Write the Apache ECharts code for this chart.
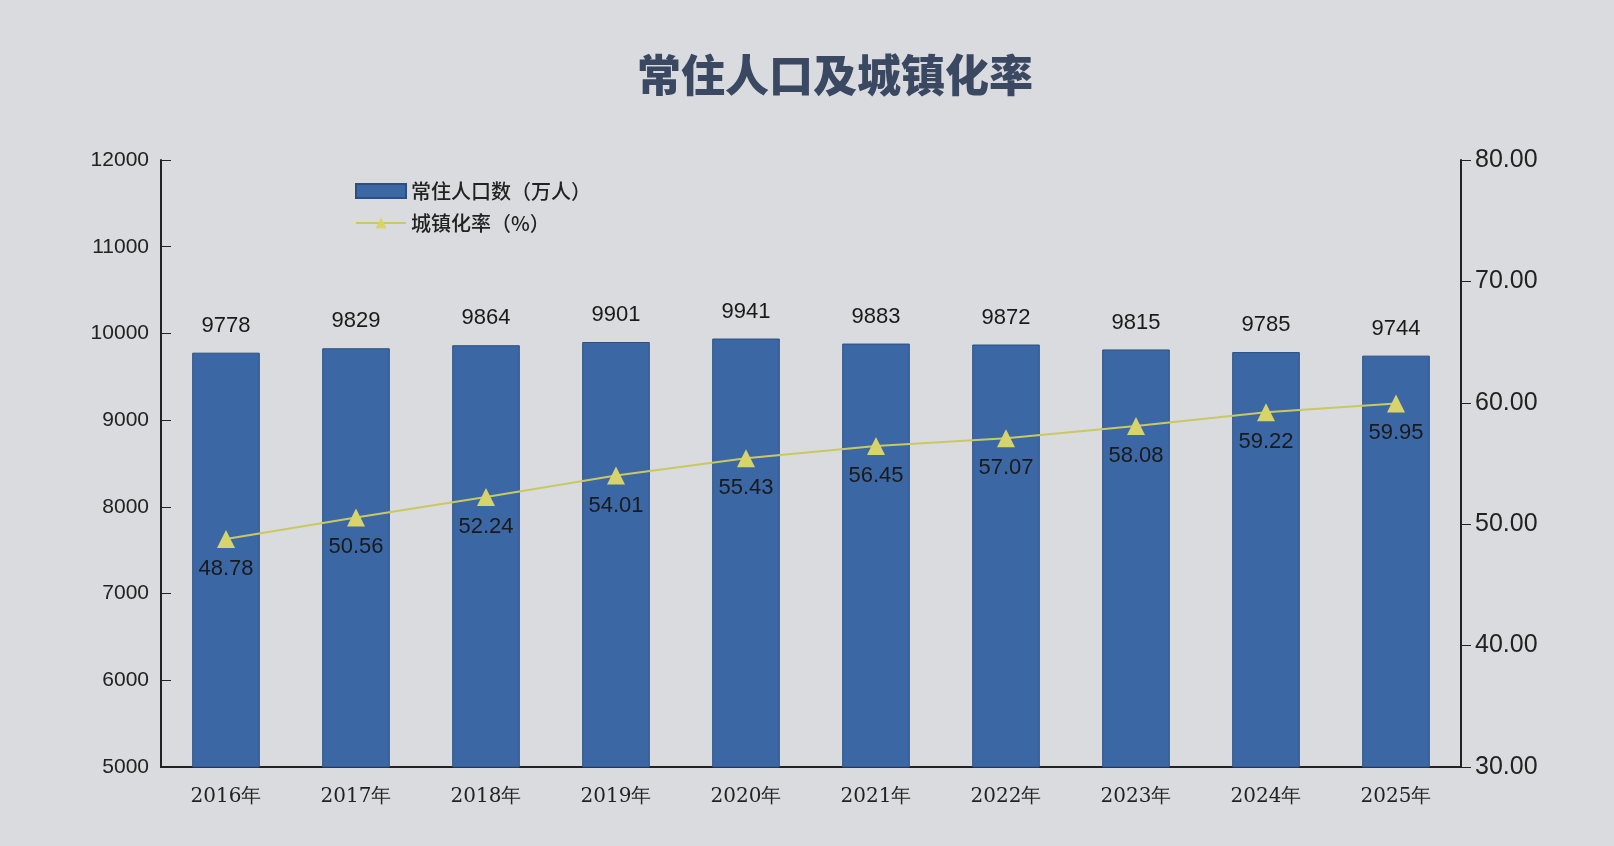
<!DOCTYPE html>
<html>
<head>
<meta charset="utf-8">
<style>
  html, body { margin: 0; padding: 0; background: #d9dbdf; }
  #main { width: 1614px; height: 846px; }
</style>
<script src="https://cdn.jsdelivr.net/npm/echarts@6/dist/echarts.min.js"></script>
</head>
<body>
<div id="main"></div>
<script>
// 年份
var years = ['2016年', '2017年', '2018年', '2019年', '2020年', '2021年', '2022年', '2023年', '2024年', '2025年'];
// 常住人口数（万人）
var population = [9778, 9829, 9864, 9901, 9941, 9883, 9872, 9815, 9785, 9744];
// 城镇化率（%）
var urbanRate = [48.78, 50.56, 52.24, 54.01, 55.43, 56.45, 57.07, 58.08, 59.22, 59.95];

var chart = echarts.init(document.getElementById('main'));

var option = {
  backgroundColor: '#d9dbdf',
  title: {
    text: '常住人口及城镇化率',
    left: 830,
    top: 48,
    textAlign: 'center',
    textStyle: {
      fontFamily: 'Noto Sans CJK SC',
      fontWeight: 900,
      fontSize: 44,
      color: '#3b4862'
    }
  },
  legend: {
    orient: 'vertical',
    left: 350,
    top: 176,
    itemGap: 12,
    itemWidth: 50,
    itemHeight: 14,
    textStyle: { fontFamily: 'Noto Sans CJK SC', fontWeight: 500, fontSize: 20, color: '#222' },
    data: [
      { name: '常住人口数（万人）', icon: 'rect' },
      { name: '城镇化率（%）' }
    ]
  },
  grid: { left: 161, right: 153, top: 160, bottom: 79 },
  xAxis: {
    type: 'category',
    data: years,
    axisLine: { lineStyle: { color: '#222', width: 2 } },
    axisTick: { inside: true, length: 8, lineStyle: { color: '#222' } },
    axisLabel: {
      fontFamily: 'DejaVu Serif',
      fontSize: 20,
      color: '#222',
      margin: 20
    }
  },
  yAxis: [
    {
      type: 'value',
      min: 5000,
      max: 12000,
      interval: 1000,
      splitLine: { show: false },
      axisLine: { show: true, lineStyle: { color: '#222', width: 2 } },
      axisTick: { show: true, inside: true, length: 10, lineStyle: { color: '#222' } },
      axisLabel: {
        fontFamily: 'Liberation Sans',
        fontSize: 21,
        color: '#222',
        margin: 12,
        formatter: function (v) { return String(v); }
      }
    },
    {
      type: 'value',
      min: 30,
      max: 80,
      interval: 10,
      splitLine: { show: false },
      axisLine: { show: true, lineStyle: { color: '#222', width: 2 } },
      axisTick: { show: true, length: 10, lineStyle: { color: '#222' } },
      axisLabel: {
        fontFamily: 'Liberation Sans',
        fontSize: 25,
        color: '#222',
        margin: 14,
        formatter: function (v) { return v.toFixed(2); }
      }
    }
  ],
  series: [
    {
      name: '常住人口数（万人）',
      type: 'bar',
      data: population,
      barWidth: '52%',
      itemStyle: { color: '#3b67a4', borderColor: '#2c4f82', borderWidth: 1 },
      label: {
        show: true,
        position: 'top',
        distance: 16,
        fontFamily: 'Liberation Sans',
        fontSize: 22,
        color: '#1a1a1a'
      }
    },
    {
      name: '城镇化率（%）',
      type: 'line',
      yAxisIndex: 1,
      data: urbanRate,
      symbol: 'triangle',
      symbolSize: 18,
      lineStyle: { color: '#c9c862', width: 2 },
      itemStyle: { color: '#d8d46c' },
      label: {
        show: true,
        position: 'bottom',
        distance: 10,
        fontFamily: 'Liberation Sans',
        fontSize: 22,
        color: '#1a1a1a',
        formatter: function (p) { return p.value.toFixed(2); }
      },
      z: 5
    }
  ]
};

chart.setOption(option);
</script>
</body>
</html>
